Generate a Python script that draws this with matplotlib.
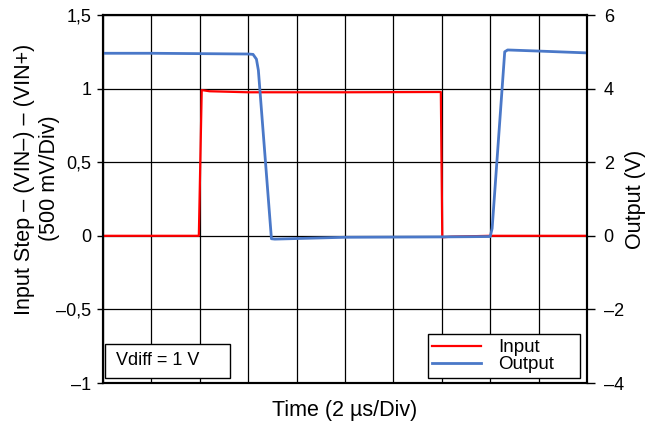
import matplotlib
matplotlib.use("Agg")
import matplotlib.pyplot as plt
from matplotlib.patches import Rectangle

# time in divisions (2 us/Div), 10 divisions across
input_t = [0, 1.98, 2.04, 2.2, 3.0, 5.0, 6.98, 7.01, 7.2, 8.0, 10.0]
input_v = [0, 0, 0.99, 0.982, 0.975, 0.975, 0.977, -0.01, -0.006, 0.0, 0.0]

output_t = [0, 1.0, 2.0, 3.0, 3.1, 3.17, 3.21, 3.48, 3.55, 5.0, 7.0, 8.0, 8.04, 8.3, 8.36, 9.0, 10.0]
output_v = [4.96, 4.96, 4.95, 4.94, 4.93, 4.8, 4.5, -0.08, -0.09, -0.04, -0.03, -0.02, 0.2, 5.0, 5.05, 5.02, 4.97]

left_ticks = [-1, -0.5, 0, 0.5, 1, 1.5]
left_labels = ["\u20131", "\u20130,5", "0", "0,5", "1", "1,5"]
right_ticks = [-4, -2, 0, 2, 4, 6]
right_labels = ["\u20134", "\u20132", "0", "2", "4", "6"]

plt.rcParams["font.family"] = ["Liberation Sans", "DejaVu Sans"]

fig = plt.figure(figsize=(6.53, 4.24), dpi=100)
ax = fig.add_axes([103 / 653, 41 / 424, 484 / 653, 368 / 424])
ax2 = ax.twinx()

ax.set_xlim(0, 10)
ax.set_ylim(-1, 1.5)
ax2.set_ylim(-4, 6)

ax.set_xticks(range(11))
ax.set_xticklabels([])
ax.tick_params(axis="x", length=0)
ax.set_yticks(left_ticks)
ax.set_yticklabels(left_labels, fontsize=13)
ax.tick_params(axis="y", direction="out", length=4.5, width=1, pad=4)
ax2.set_yticks(right_ticks)
ax2.set_yticklabels(right_labels, fontsize=13)
ax2.tick_params(axis="y", direction="out", length=6, width=1, pad=6)

ax.grid(True, color="black", linewidth=0.9)
for sp in ax.spines.values():
    sp.set_linewidth(1.5)
for sp in ax2.spines.values():
    sp.set_linewidth(1.5)

l1, = ax.plot(input_t, input_v, color="#ff0000", linewidth=1.6, label="Input")
l2, = ax2.plot(output_t, output_v, color="#4a78c8", linewidth=2.0, label="Output")

ax.set_xlabel("Time (2 \u00b5s/Div)", fontsize=15.5, labelpad=9)
# left label drawn as two lines so the short second line sits clear of the ticks
ax.text(-0.163, 0.552, "Input Step \u2013 (VIN\u2013) \u2013 (VIN+)", transform=ax.transAxes,
        rotation=90, ha="center", va="center", fontsize=15.5)
ax.text(-0.11, 0.557, "(500 mV/Div)", transform=ax.transAxes,
        rotation=90, ha="center", va="center", fontsize=15.5)
ax2.set_ylabel("Output (V)", fontsize=15.5, labelpad=1)

leg = ax2.legend(handles=[l1, l2], loc="lower left", fontsize=13.5, frameon=True,
                 fancybox=False, edgecolor="black", framealpha=1,
                 bbox_to_anchor=(0.671, 0.0136, 0.315, 0.15), mode="expand",
                 borderaxespad=0, handlelength=2.6, handletextpad=0.9,
                 labelspacing=0.0, borderpad=0.25)
leg.get_frame().set_linewidth(1.0)

ax2.add_patch(Rectangle((0.004, 0.0136), 0.258, 0.092, transform=ax.transAxes,
                        facecolor="white", edgecolor="black", linewidth=1.0, zorder=5))
ax2.text(0.027, 0.06, "Vdiff = 1 V", transform=ax.transAxes, fontsize=13,
         ha="left", va="center", zorder=6)

fig.savefig("out.png", dpi=100)
